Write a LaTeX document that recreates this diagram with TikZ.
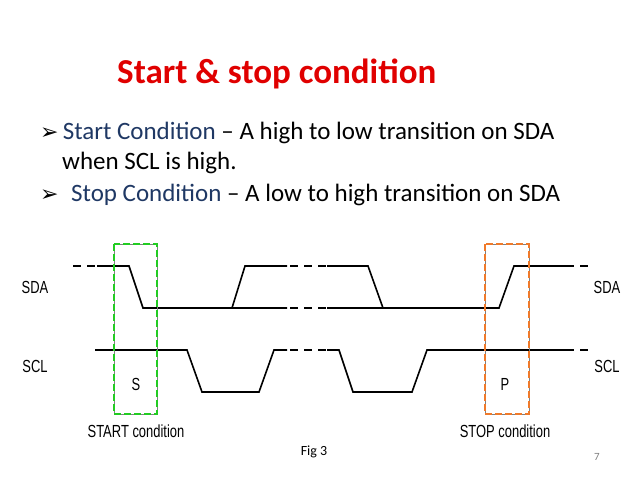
\documentclass[tikz,border=0pt]{standalone}
\usepackage{fontspec}
\usepackage{graphicx}
\setmainfont{Carlito}
\newfontfamily\arialf{Liberation Sans}
\newfontfamily\djv{DejaVu Sans}
\definecolor{navy}{HTML}{1F3864}
\definecolor{titlered}{HTML}{E00000}
\definecolor{sgreen}{HTML}{22CC22}
\definecolor{porange}{HTML}{F07A2A}
\newcommand{\narrowtxt}[1]{\scalebox{0.74}[1]{#1}}
\begin{document}
\begin{tikzpicture}[x=1pt,y=-1pt,
  wave/.style={line width=1.6pt},
  wdash/.style={line width=1.6pt,dash pattern=on 8pt off 6pt},
  sig/.style={font=\arialf\fontsize{17.5}{20}\selectfont,inner sep=0},
  body/.style={font=\fontsize{25}{30}\selectfont,anchor=west,inner sep=0},
  cbox/.style={line width=1.3pt,dash pattern=on 7pt off 3pt}]
\useasboundingbox (0,0) rectangle (638,479);
\node[font=\bfseries\fontsize{35}{40}\selectfont,text=titlered,anchor=west,inner sep=0] (title) at (117,74) {Start \& stop condition};
\node[body] (b1) at (40,133) {{\djv\fontsize{22}{25}\selectfont ➢}\,\textcolor{navy}{Start Condition} -- A high to low transition on SDA};
\node[body] (b1b) at (62,163) {when SCL is high.};
\node[body] (b2) at (40,195) {{\djv\fontsize{22}{25}\selectfont ➢}\enspace\textcolor{navy}{Stop Condition} -- A low to high transition on SDA};
% SDA
\draw[wdash] (73,266) -- (97,266);
\draw[wave] (97,266) -- (129,266) -- (143,308) -- (287,308);
\draw[wdash] (290,308) -- (327,308);
\draw[wave] (327,308) -- (499,308) -- (514,266) -- (566,266);
\draw[wdash] (566,266) -- (588,266);
\draw[wave] (232,308) -- (245,266) -- (287,266);
\draw[wdash] (290,266) -- (327,266);
\draw[wave] (327,266) -- (368,266) -- (383,308);
% SCL
\draw[wave] (95,350) -- (187,350) -- (202,392) -- (259,392) -- (274,350) -- (287,350);
\draw[wdash] (290,350) -- (327,350);
\draw[wave] (327,350) -- (339,350) -- (353,392) -- (412,392) -- (427,350) -- (566,350);
\draw[wdash] (566,350) -- (588,350);
% boxes
\draw[gray,line width=0.6pt] (114,244) rectangle (157,414);
\draw[gray,line width=0.6pt] (485,244) rectangle (529,414);
\draw[cbox,sgreen] (114,244) rectangle (157,414);
\draw[cbox,porange] (485,244) rectangle (529,414);
% labels
\node[sig] (sdaL) at (35,287) {\narrowtxt{SDA}};
\node[sig] (sclL) at (35,366) {\narrowtxt{SCL}};
\node[sig] (sdaR) at (607,287) {\narrowtxt{SDA}};
\node[sig] (sclR) at (607,366) {\narrowtxt{SCL}};
\node[sig] (S) at (136,384) {\narrowtxt{S}};
\node[sig] (P) at (505,384) {\narrowtxt{P}};
\node[sig] (startc) at (136,431) {\narrowtxt{START condition}};
\node[sig] (stopc) at (505,431) {\narrowtxt{STOP condition}};
\node[font=\fontsize{14}{16}\selectfont,inner sep=0] (fig) at (314,452) {Fig 3};
\node[font=\fontsize{11}{13}\selectfont,text=gray,inner sep=0] (pg) at (597,457) {7};
\end{tikzpicture}
\end{document}
